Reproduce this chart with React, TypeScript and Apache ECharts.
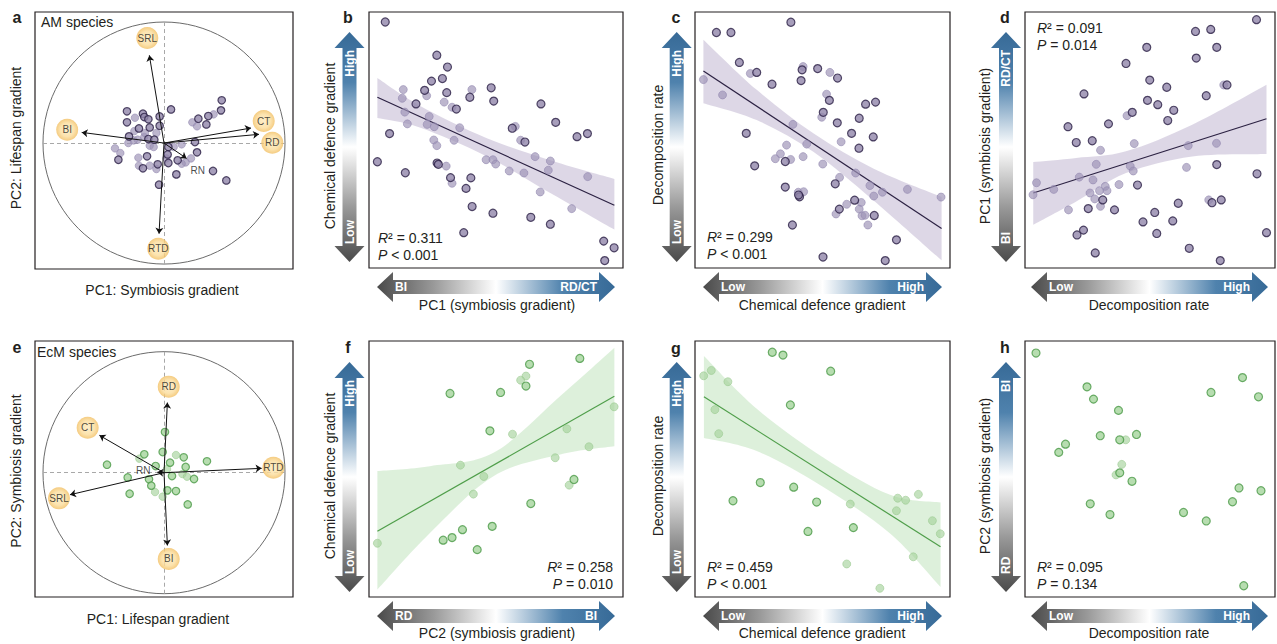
import React, { useEffect, useRef } from "react";
import * as echarts from "echarts";

const FONT = '"Liberation Sans", Arial, Helvetica, sans-serif';
const INK = "#231f20";

// ---------------- a: AM species PCA (PC1, PC2, faded flag) ----------------
const amScores: number[][] = [
  [0.477, 0.353, 0], [0.471, 0.27, 0], [0.41, 0.237, 1], [0.366, 0.223, 0], [0.284, 0.201, 0],
  [0.234, 0.171, 1], [0.273, 0.138, 1], [0.35, 0.154, 0], [0.058, 0.278, 0], [-0.306, 0.262, 0],
  [-0.306, 0.171, 0], [-0.24, 0.209, 1], [-0.174, 0.242, 0], [-0.163, 0.215, 0], [-0.129, 0.196, 0],
  [-0.036, 0.22, 0], [-0.207, 0.121, 0], [-0.118, 0.129, 0], [-0.036, 0.143, 0], [-0.289, 0.055, 0],
  [-0.295, 0.0, 1], [-0.218, 0.028, 1], [-0.163, 0.05, 1], [-0.129, 0.033, 0], [-0.08, 0.028, 0],
  [-0.063, 0.083, 1], [-0.118, -0.022, 1], [-0.085, -0.033, 1], [-0.405, -0.044, 1], [-0.361, -0.083, 1],
  [-0.377, -0.138, 0], [-0.212, -0.121, 1], [-0.14, -0.11, 0], [-0.207, -0.187, 1], [-0.174, -0.209, 0],
  [-0.118, -0.187, 1], [-0.052, -0.176, 0], [-0.063, -0.215, 1], [0.036, -0.033, 0], [0.08, -0.033, 1],
  [0.146, -0.011, 1], [0.256, 0.008, 0], [0.273, -0.077, 0], [0.223, -0.127, 1], [0.179, -0.16, 1],
  [0.146, -0.171, 1], [0.113, -0.143, 0], [0.03, -0.094, 0], [0.019, -0.127, 1], [0.036, -0.165, 0],
  [0.102, -0.259, 0], [0.405, -0.231, 0], [0.515, -0.309, 0], [-0.041, -0.344, 0], [-0.251, 0.022, 1],
  [-0.157, 0.083, 1], [-0.245, 0.099, 1],
];
const amTraits = ["SRL", "BI", "CT", "RD", "RN", "RTD"];
const amTipX = [-0.121, -0.68, 0.719, 0.785, 0.187, -0.041];
const amTipY = [0.725, 0.088, 0.124, 0.072, -0.127, -0.749];
const amLabelX = [-0.138, -0.8, 0.824, 0.895, 0.278, -0.047];
const amLabelY = [0.868, 0.11, 0.182, 0.003, -0.226, -0.873];
const amBubble = [1, 1, 1, 1, 0, 1];

// ---------------- e: EcM species PCA ----------------
const ecmScores: number[][] = [
  [0.008, 0.336, 0], [-0.011, 0.171, 0], [-0.163, 0.152, 0], [-0.204, 0.116, 1], [0.099, 0.146, 1],
  [0.163, 0.127, 0], [0.355, 0.094, 0], [-0.471, 0.066, 0], [-0.069, 0.055, 0], [0.05, 0.083, 0],
  [0.179, 0.047, 0], [0.152, -0.011, 1], [0.19, -0.033, 1], [0.248, -0.052, 0], [0.066, -0.028, 0],
  [-0.3, -0.039, 0], [-0.124, -0.055, 0], [-0.105, -0.107, 0], [-0.074, -0.16, 1], [0.028, -0.146, 0],
  [0.099, -0.152, 0], [-0.284, -0.174, 0], [-0.011, -0.198, 1], [0.196, -0.262, 0], [0.025, 0.03, 1],
];
const ecmTraits = ["RD", "CT", "RTD", "SRL", "BI", "RN"];
const ecmTipX = [0.028, -0.534, 0.807, -0.777, 0.028, -0.055];
const ecmTipY = [0.579, 0.309, 0.036, -0.182, -0.601, 0.004];
const ecmLabelX = [0.039, -0.631, 0.904, -0.868, 0.039, -0.171];
const ecmLabelY = [0.711, 0.372, 0.041, -0.212, -0.713, 0.022];
const ecmBubble = [1, 1, 1, 1, 1, 0];

// ---------------- b ----------------
const bPoints: number[][] = [
  [6.4, 96.1, 0], [26.7, 83.1, 0], [30.9, 78.5, 0], [28.9, 74.0, 0], [24.6, 73.0, 0], [13.5, 69.7, 1],
  [21.9, 69.4, 0], [22.7, 67.3, 1], [30.6, 68.5, 0], [13.1, 66.3, 1], [18.5, 64.1, 0], [29.6, 64.8, 1],
  [32.7, 62.8, 1], [34.4, 62.1, 0], [14.1, 60.9, 1], [23.7, 59.2, 1], [15.1, 56.3, 1], [22.9, 56.1, 1],
  [25.7, 55.2, 1], [35.7, 54.8, 1], [8.1, 52.5, 0], [25.5, 50.0, 1], [33.5, 49.9, 1], [26.7, 47.8, 1],
  [3.3, 41.5, 0], [26.8, 41.0, 0], [27.3, 40.5, 0], [30.4, 39.8, 1], [14.3, 37.2, 0], [32.1, 35.3, 0],
  [32.7, 33.1, 1], [40.1, 35.2, 0], [38.2, 31.1, 0], [40.6, 24.0, 0], [37.3, 13.8, 0], [40.5, 69.7, 1],
  [39.7, 66.7, 0], [48.1, 70.4, 0], [49.1, 65.2, 0], [46.1, 42.3, 1], [48.8, 42.3, 1], [49.9, 40.6, 1],
  [48.8, 21.4, 0], [55.2, 37.9, 1], [56.4, 54.6, 0], [57.6, 55.3, 1], [59.7, 49.9, 1], [61.4, 49.2, 0],
  [61.0, 37.1, 1], [65.4, 43.5, 1], [67.4, 29.7, 1], [63.7, 19.8, 0], [67.7, 64.1, 0], [73.5, 56.9, 0],
  [71.4, 41.8, 1], [70.6, 38.2, 1], [71.4, 17.1, 0], [79.8, 23.2, 1], [81.9, 51.3, 0], [86.0, 52.5, 0],
  [86.1, 35.7, 1], [92.4, 10.5, 0], [96.5, 7.9, 0], [92.8, 2.9, 0],
];
const bFitX = [3.3, 96.6];
const bFitY = [66.7, 24.5];
const bBandX = [3.3, 20, 46.4, 72.6, 96.6];
const bBandLo = [58.6, 54.9, 43.6, 28.6, 15.0];
const bBandHi = [74.2, 63.4, 50.7, 41.7, 34.8];

// ---------------- c ----------------
const cPoints: number[][] = [
  [37.6, 96.0, 0], [8.4, 92.0, 0], [14.1, 92.0, 0], [17.4, 80.3, 0], [21.7, 76.0, 1], [24.2, 76.4, 0],
  [3.3, 73.6, 1], [10.8, 67.6, 1], [30.2, 71.8, 0], [42.4, 78.7, 1], [42.0, 77.4, 0], [41.6, 73.2, 0],
  [48.1, 77.9, 0], [52.9, 76.4, 1], [55.9, 74.2, 0], [51.6, 67.9, 1], [52.7, 65.5, 0], [50.3, 60.8, 0],
  [49.7, 58.9, 1], [66.9, 64.0, 0], [70.8, 64.8, 0], [64.4, 58.5, 0], [55.8, 56.7, 0], [38.4, 56.1, 1],
  [20.1, 52.6, 0], [61.4, 52.6, 0], [69.9, 51.2, 0], [57.3, 49.3, 1], [43.8, 48.4, 1], [35.9, 48.0, 1],
  [64.3, 46.8, 0], [33.5, 44.6, 1], [31.5, 42.7, 1], [37.5, 42.4, 1], [35.4, 41.6, 0], [42.4, 43.5, 1],
  [23.4, 39.9, 0], [50.1, 40.6, 1], [63.0, 37.1, 1], [56.7, 35.4, 1], [55.0, 32.9, 0], [35.4, 31.6, 0],
  [40.5, 29.6, 1], [42.6, 29.8, 1], [41.0, 27.8, 0], [40.6, 28.5, 0], [68.6, 32.2, 1], [73.5, 29.6, 1],
  [70.1, 28.1, 1], [83.3, 30.7, 1], [96.5, 27.7, 1], [62.6, 26.5, 0], [65.2, 25.6, 1], [59.5, 24.9, 1],
  [56.6, 23.0, 0], [55.3, 21.1, 1], [64.4, 23.0, 1], [65.5, 20.4, 1], [66.7, 20.6, 1], [70.3, 20.5, 0],
  [67.8, 16.8, 1], [38.2, 16.8, 0], [79.0, 11.0, 0], [50.2, 4.3, 0], [74.6, 2.9, 0],
];
const cFitX = [3.3, 96.7];
const cFitY = [77.0, 15.4];
const cBandX = [3.3, 24.2, 46.4, 69.9, 96.7];
const cBandLo = [64.4, 57.8, 45.4, 26.5, 3.0];
const cBandHi = [89.2, 69.6, 52.6, 38.9, 27.8];

// ---------------- d ----------------
const dPoints: number[][] = [
  [92.6, 97.0, 0], [68.2, 92.4, 0], [74.3, 93.2, 0], [48.7, 86.2, 0], [76.7, 86.2, 0], [68.5, 82.0, 0],
  [40.4, 79.9, 0], [49.9, 73.4, 0], [56.7, 70.6, 0], [23.6, 68.0, 0], [79.5, 71.5, 1], [80.8, 71.5, 0],
  [72.5, 67.3, 0], [49.0, 65.5, 0], [53.1, 63.8, 0], [59.5, 61.6, 0], [42.9, 60.8, 0], [40.8, 59.5, 1],
  [57.1, 57.6, 0], [33.4, 56.3, 0], [17.2, 55.2, 0], [20.5, 49.0, 0], [26.9, 49.7, 0], [30.2, 46.0, 1],
  [43.7, 48.6, 1], [65.3, 47.8, 1], [76.6, 48.7, 1], [76.7, 40.4, 0], [28.5, 40.5, 1], [42.1, 39.8, 1],
  [43.3, 37.9, 1], [64.6, 39.3, 1], [92.8, 36.8, 0], [4.6, 33.3, 1], [21.7, 35.5, 1], [27.2, 34.4, 1],
  [45.0, 32.4, 0], [37.6, 32.6, 1], [11.5, 30.7, 1], [32.1, 31.9, 1], [32.8, 30.2, 1], [26.0, 29.3, 1],
  [29.8, 30.2, 1], [3.2, 28.6, 1], [27.9, 27.0, 1], [31.1, 26.6, 0], [30.2, 24.1, 1], [17.4, 22.7, 1],
  [25.3, 23.2, 0], [35.8, 22.7, 0], [61.3, 25.3, 0], [73.5, 26.6, 1], [74.8, 25.5, 0], [78.5, 26.6, 0],
  [51.9, 21.7, 0], [59.1, 18.4, 0], [47.2, 18.0, 0], [52.7, 13.5, 0], [23.4, 14.8, 0], [20.8, 12.9, 0],
  [96.6, 13.8, 0], [65.7, 7.7, 0], [28.1, 5.9, 0], [78.1, 2.9, 0],
];
const dFitX = [3.3, 96.6];
const dFitY = [29.3, 58.3];
const dBandX = [3.3, 20.5, 40.4, 66.9, 96.6];
const dBandLo = [16.9, 26.0, 37.1, 43.6, 44.5];
const dBandHi = [41.4, 43.0, 45.6, 56.0, 71.6];

// ---------------- f ----------------
const fPoints: number[][] = [
  [83.0, 93.2, 0], [63.2, 90.9, 0], [61.8, 86.3, 1], [59.7, 84.7, 1], [61.8, 82.4, 0], [31.9, 79.5, 0],
  [51.8, 79.9, 0], [96.5, 74.3, 1], [47.6, 64.9, 0], [56.5, 63.6, 1], [77.9, 65.7, 1], [86.6, 58.7, 1],
  [73.3, 54.4, 1], [36.0, 51.5, 1], [45.2, 47.1, 1], [41.1, 40.2, 1], [78.8, 43.7, 1], [80.7, 45.9, 0],
  [63.7, 36.5, 0], [36.8, 26.3, 0], [48.5, 27.6, 0], [32.7, 23.2, 0], [29.2, 22.2, 0], [42.6, 18.5, 0],
  [3.3, 21.0, 1],
];
const fFitX = [3.3, 96.6];
const fFitY = [25.7, 78.4];
const fBandX = [3.3, 24, 49, 75.3, 96.6];
const fBandLo = [2.9, 25.0, 47.2, 55.7, 58.9];
const fBandHi = [49.2, 51.1, 56.3, 78.5, 97.4];

// ---------------- g ----------------
const gPoints: number[][] = [
  [30.3, 95.6, 0], [34.5, 94.5, 0], [53.2, 88.2, 0], [3.4, 86.4, 1], [6.4, 88.5, 1], [12.9, 84.1, 1],
  [37.4, 75.0, 0], [7.8, 73.2, 1], [9.3, 63.8, 1], [25.6, 44.7, 0], [38.7, 42.9, 0], [14.9, 37.6, 0],
  [47.7, 37.1, 0], [60.9, 36.3, 1], [79.5, 38.6, 1], [82.6, 37.8, 1], [87.6, 40.1, 1], [79.0, 33.7, 1],
  [93.1, 29.8, 1], [96.2, 24.7, 1], [44.3, 25.6, 0], [62.1, 27.1, 0], [85.6, 15.7, 1], [59.5, 12.9, 1],
  [72.5, 3.4, 1],
];
const gFitX = [3.5, 96.3];
const gFitY = [78.2, 19.6];
const gBandX = [3.5, 24.2, 50.3, 76.5, 96.3];
const gBandLo = [62.1, 57.0, 43.0, 24.8, 3.9];
const gBandHi = [94.1, 73.5, 54.5, 39.9, 36.9];

// ---------------- h ----------------
const hPoints: number[][] = [
  [4.4, 95.3, 0], [24.8, 82.1, 0], [27.4, 77.3, 0], [37.4, 72.9, 0], [87.0, 85.7, 0], [74.4, 79.9, 0],
  [93.4, 78.2, 0], [30.1, 63.0, 0], [37.9, 61.4, 0], [40.3, 61.4, 1], [44.6, 63.5, 0], [16.2, 59.7, 0],
  [13.5, 56.5, 0], [38.7, 51.8, 1], [36.4, 47.7, 1], [37.9, 48.5, 0], [42.8, 45.2, 0], [26.1, 36.4, 0],
  [34.0, 32.2, 0], [63.4, 33.0, 0], [72.5, 29.7, 0], [85.6, 42.6, 0], [94.4, 41.5, 0], [83.0, 37.2, 0],
  [87.5, 4.4, 0],
];

// statistics text
const statR2 = ["0.311", "0.299", "0.091", "0.258", "0.459", "0.095"];
const statP = ["< 0.001", "< 0.001", "= 0.014", "= 0.010", "< 0.001", "= 0.134"];

// ---------------- layout ----------------
const BOXES = [
  { left: 35, top: 12, width: 258, height: 257 },
  { left: 369, top: 12, width: 254, height: 256 },
  { left: 695, top: 12, width: 255, height: 256 },
  { left: 1025, top: 12, width: 250, height: 256 },
  { left: 35, top: 341, width: 258, height: 256 },
  { left: 369, top: 341, width: 254, height: 256 },
  { left: 695, top: 341, width: 255, height: 256 },
  { left: 1025, top: 341, width: 250, height: 256 },
];
const RANGES = [
  { x: [-1.066, 1.066], y: [-1.041, 1.083] },
  { x: [0, 100], y: [0, 100] },
  { x: [0, 100], y: [0, 100] },
  { x: [0, 100], y: [0, 100] },
  { x: [-1.066, 1.066], y: [-1.027, 1.088] },
  { x: [0, 100], y: [0, 100] },
  { x: [0, 100], y: [0, 100] },
  { x: [0, 100], y: [0, 100] },
];

const PURPLE = {
  fill: "#9186aa",
  edge: "#2b1f45",
  faded: "rgba(158,148,183,0.85)",
  fadedEdge: "rgba(145,135,175,0.9)",
  line: "#2b2142",
  band: "rgba(187,176,205,0.5)",
};
const GREEN = {
  fill: "#a5d49c",
  edge: "#4b9a47",
  faded: "rgba(165,210,155,0.8)",
  fadedEdge: "rgba(150,200,140,0.85)",
  line: "#4f9e4a",
  band: "rgba(175,220,170,0.42)",
};

function scatterPair(i: number, pts: number[][], pal: any, size: number) {
  return [
    {
      type: "scatter", xAxisIndex: i, yAxisIndex: i, symbolSize: size, silent: true, z: 3,
      data: pts.filter((p) => p[2] === 1).map((p) => [p[0], p[1]]),
      itemStyle: { color: pal.faded, borderColor: pal.fadedEdge, borderWidth: 0.8 },
    },
    {
      type: "scatter", xAxisIndex: i, yAxisIndex: i, symbolSize: size, silent: true, z: 4,
      data: pts.filter((p) => p[2] !== 1).map((p) => [p[0], p[1]]),
      itemStyle: { color: pal.fill, borderColor: pal.edge, borderWidth: 1.2 },
    },
  ];
}

function curve(p: number[][], move: boolean) {
  let s = move ? `M${p[0][0]} ${p[0][1]}` : "";
  for (let k = 0; k < p.length - 1; k++) {
    const p0 = p[k - 1] || p[k];
    const p1 = p[k];
    const p2 = p[k + 1];
    const p3 = p[k + 2] || p2;
    const c1 = [p1[0] + (p2[0] - p0[0]) / 6, p1[1] + (p2[1] - p0[1]) / 6];
    const c2 = [p2[0] - (p3[0] - p1[0]) / 6, p2[1] - (p3[1] - p1[1]) / 6];
    s += ` C${c1[0]} ${c1[1]} ${c2[0]} ${c2[1]} ${p2[0]} ${p2[1]}`;
  }
  return s;
}

function bandSeries(i: number, xs: number[], lo: number[], hi: number[], color: string) {
  return {
    type: "custom", xAxisIndex: i, yAxisIndex: i, silent: true, z: 1,
    data: [[xs[0], lo[0]]],
    renderItem: (_params: any, api: any) => {
      const up = xs.map((x, k) => api.coord([x, hi[k]]));
      const dn = xs.map((x, k) => api.coord([x, lo[k]])).reverse();
      const d = curve(up, true) + ` L${dn[0][0]} ${dn[0][1]}` + curve(dn, false) + " Z";
      return { type: "path", shape: { pathData: d }, style: { fill: color } };
    },
  };
}

function fitSeries(i: number, xs: number[], ys: number[], color: string) {
  return {
    type: "line", xAxisIndex: i, yAxisIndex: i, silent: true, z: 2, symbol: "none",
    data: xs.map((x, k) => [x, ys[k]]),
    lineStyle: { color, width: 1.2 },
  };
}

const BUBBLE = {
  type: "radial", x: 0.5, y: 0.5, r: 0.5,
  colorStops: [
    { offset: 0, color: "#fdeabd" },
    { offset: 0.62, color: "#fbdc9a" },
    { offset: 1, color: "#f2bf62" },
  ],
};

function pcaSeries(i: number, scores: number[][], traits: string[], tx: number[], ty: number[], lx: number[], ly: number[], bub: number[], pal: any) {
  return [
    {
      type: "lines", coordinateSystem: "cartesian2d", xAxisIndex: i, yAxisIndex: i, silent: true, z: 1,
      data: [{ coords: [[-1, 0], [1, 0]] }, { coords: [[0, -1], [0, 1]] }],
      symbol: "none",
      lineStyle: { color: "#a8a8a8", type: [4, 3], width: 1, opacity: 1 },
    },
    ...scatterPair(i, scores, pal, 7.5),
    {
      type: "lines", coordinateSystem: "cartesian2d", xAxisIndex: i, yAxisIndex: i, silent: true, z: 5,
      data: traits.map((_t, k) => ({ coords: [[0, 0], [tx[k], ty[k]]] })),
      symbol: ["none", "arrow"], symbolSize: 6,
      lineStyle: { color: "#111", width: 1, opacity: 1 },
    },
    {
      type: "scatter", xAxisIndex: i, yAxisIndex: i, silent: true, z: 6,
      data: traits.map((t, k) => ({
        name: t,
        value: [lx[k], ly[k]],
        symbolSize: bub[k] ? 22 : 1,
        itemStyle: bub[k] ? { color: BUBBLE } : { color: "rgba(0,0,0,0)" },
      })),
      label: { show: true, position: "inside", formatter: "{b}", fontSize: 10, color: "#1a1a1a", fontFamily: FONT },
    },
  ];
}

const V_STOPS = [
  { offset: 0, color: "#376a97" },
  { offset: 0.22, color: "#4f82ad" },
  { offset: 0.5, color: "#ffffff" },
  { offset: 0.76, color: "#9a9a9a" },
  { offset: 1, color: "#4a4a4a" },
];
const H_STOPS = [
  { offset: 0, color: "#4a4a4a" },
  { offset: 0.24, color: "#9a9a9a" },
  { offset: 0.5, color: "#ffffff" },
  { offset: 0.78, color: "#4f82ad" },
  { offset: 1, color: "#376a97" },
];

const lblStyle = { fill: "#ffffff", fontSize: 12, fontWeight: "bold", fontFamily: FONT, verticalAlign: "middle" };

function vArrow(cx: number, yT: number, yB: number, top: string, bottom: string) {
  const hw = 15, sw = 7, hl = 16;
  const pts = [
    [cx, yT], [cx + hw, yT + hl], [cx + sw, yT + hl], [cx + sw, yB - hl], [cx + hw, yB - hl],
    [cx, yB], [cx - hw, yB - hl], [cx - sw, yB - hl], [cx - sw, yT + hl], [cx - hw, yT + hl],
  ];
  return [
    { type: "polygon", shape: { points: pts }, style: { fill: new echarts.graphic.LinearGradient(0, 0, 0, 1, V_STOPS) }, z: 1 },
    { type: "text", x: cx, y: yT + hl + 2, rotation: Math.PI / 2, z: 2, style: { ...lblStyle, text: top, align: "right" } },
    { type: "text", x: cx, y: yB - hl - 2, rotation: Math.PI / 2, z: 2, style: { ...lblStyle, text: bottom, align: "left" } },
  ];
}

function hArrow(xL: number, xR: number, cy: number, left: string, right: string) {
  const hw = 15, sw = 7, hl = 16;
  const pts = [
    [xL, cy], [xL + hl, cy - hw], [xL + hl, cy - sw], [xR - hl, cy - sw], [xR - hl, cy - hw],
    [xR, cy], [xR - hl, cy + hw], [xR - hl, cy + sw], [xL + hl, cy + sw], [xL + hl, cy + hw],
  ];
  return [
    { type: "polygon", shape: { points: pts }, style: { fill: new echarts.graphic.LinearGradient(0, 0, 1, 0, H_STOPS) }, z: 1 },
    { type: "text", x: xL + hl + 2, y: cy, z: 2, style: { ...lblStyle, text: left, align: "left" } },
    { type: "text", x: xR - hl - 2, y: cy, z: 2, style: { ...lblStyle, text: right, align: "right" } },
  ];
}

function title(x: number, y: number, text: string, rotate = false) {
  return {
    type: "text", x, y, rotation: rotate ? Math.PI / 2 : 0, z: 3,
    style: { text, fontSize: 14, fontFamily: FONT, fill: INK, align: "center", verticalAlign: "middle" },
  };
}

function letter(x: number, y: number, text: string) {
  return {
    type: "text", x, y, z: 3,
    style: { text, fontSize: 16, fontWeight: "bold", fontFamily: FONT, fill: INK, align: "center", verticalAlign: "middle" },
  };
}

function stats(x: number, y: number, k: number, align: string) {
  const s = { fontSize: 14, fontFamily: FONT, fill: INK, align, verticalAlign: "middle" };
  const rich = { i: { fontStyle: "italic", fontSize: 14, fontFamily: FONT, fill: INK } };
  return [
    { type: "text", x, y, z: 3, style: { ...s, text: `{i|R}² = ${statR2[k]}`, rich } },
    { type: "text", x, y: y + 17, z: 3, style: { ...s, text: `{i|P} ${statP[k]}`, rich } },
  ];
}

export default function App() {
  const ref = useRef<HTMLDivElement>(null);
  useEffect(() => {
    if (!ref.current) return;
    const chart = echarts.init(ref.current, undefined, { renderer: "svg" });
    const series: any[] = [
      ...pcaSeries(0, amScores, amTraits, amTipX, amTipY, amLabelX, amLabelY, amBubble, PURPLE),
      bandSeries(1, bBandX, bBandLo, bBandHi, PURPLE.band),
      fitSeries(1, bFitX, bFitY, PURPLE.line),
      ...scatterPair(1, bPoints, PURPLE, 8),
      bandSeries(2, cBandX, cBandLo, cBandHi, PURPLE.band),
      fitSeries(2, cFitX, cFitY, PURPLE.line),
      ...scatterPair(2, cPoints, PURPLE, 8),
      bandSeries(3, dBandX, dBandLo, dBandHi, PURPLE.band),
      fitSeries(3, dFitX, dFitY, PURPLE.line),
      ...scatterPair(3, dPoints, PURPLE, 8),
      ...pcaSeries(4, ecmScores, ecmTraits, ecmTipX, ecmTipY, ecmLabelX, ecmLabelY, ecmBubble, GREEN),
      bandSeries(5, fBandX, fBandLo, fBandHi, GREEN.band),
      fitSeries(5, fFitX, fFitY, GREEN.line),
      ...scatterPair(5, fPoints, GREEN, 8),
      bandSeries(6, gBandX, gBandLo, gBandHi, GREEN.band),
      fitSeries(6, gFitX, gFitY, GREEN.line),
      ...scatterPair(6, gPoints, GREEN, 8),
      ...scatterPair(7, hPoints, GREEN, 8),
    ];
    chart.setOption({
      animation: false,
      backgroundColor: "#ffffff",
      grid: BOXES.map((b) => ({ ...b, show: true, borderColor: INK, borderWidth: 1.2, backgroundColor: "transparent" })),
      xAxis: RANGES.map((r, i) => ({ gridIndex: i, type: "value", min: r.x[0], max: r.x[1], show: false })),
      yAxis: RANGES.map((r, i) => ({ gridIndex: i, type: "value", min: r.y[0], max: r.y[1], show: false })),
      series,
    });

    const circle = (gi: number) => {
      const c = chart.convertToPixel({ gridIndex: gi } as any, [0, 0]) as number[];
      const e = chart.convertToPixel({ gridIndex: gi } as any, [1, 0]) as number[];
      return { type: "circle", z: 0, shape: { cx: c[0], cy: c[1], r: e[0] - c[0] }, style: { fill: "none", stroke: "#6b6b6b", lineWidth: 1 } };
    };

    const graphics: any[] = [
      circle(0),
      circle(4),
      letter(17, 17, "a"), letter(348, 17, "b"), letter(676, 17, "c"), letter(1005, 17, "d"),
      letter(17, 347, "e"), letter(348, 347, "f"), letter(676, 348, "g"), letter(1005, 347, "h"),
      { type: "text", x: 41, y: 22, z: 3, style: { text: "AM species", fontSize: 14, fontFamily: FONT, fill: INK, align: "left", verticalAlign: "middle" } },
      { type: "text", x: 37, y: 352, z: 3, style: { text: "EcM species", fontSize: 14, fontFamily: FONT, fill: INK, align: "left", verticalAlign: "middle" } },
      title(162, 290, "PC1: Symbiosis gradient"),
      title(16, 138, "PC2: Lifespan gradient", true),
      title(158, 619, "PC1: Lifespan gradient"),
      title(16, 471, "PC2: Symbiosis gradient", true),
      // b
      ...vArrow(349.5, 32, 262, "High", "Low"),
      ...hArrow(377, 615, 287, "BI", "RD/CT"),
      title(330, 146, "Chemical defence gradient", true),
      title(497, 305, "PC1 (symbiosis gradient)"),
      ...stats(378, 238, 0, "left"),
      // c
      ...vArrow(676.7, 32, 262, "High", "Low"),
      ...hArrow(703, 942, 287, "Low", "High"),
      title(658, 145, "Decomposition rate", true),
      title(822, 305, "Chemical defence gradient"),
      ...stats(707, 237, 1, "left"),
      // d
      ...vArrow(1006, 32, 262, "RD/CT", "BI"),
      ...hArrow(1031, 1268, 287, "Low", "High"),
      title(985, 146, "PC1 (symbiosis gradient)", true),
      title(1149, 305, "Decomposition rate"),
      ...stats(1037, 28, 2, "left"),
      // f
      ...vArrow(349.5, 362, 592, "High", "Low"),
      ...hArrow(377, 615, 616, "RD", "BI"),
      title(330, 476, "Chemical defence gradient", true),
      title(497, 633, "PC2 (symbiosis gradient)"),
      ...stats(613, 567, 3, "right"),
      // g
      ...vArrow(676.7, 362, 592, "High", "Low"),
      ...hArrow(703, 942, 616, "Low", "High"),
      title(658, 476, "Decomposition rate", true),
      title(822, 633, "Chemical defence gradient"),
      ...stats(707, 567, 4, "left"),
      // h
      ...vArrow(1006, 362, 592, "BI", "RD"),
      ...hArrow(1031, 1268, 616, "Low", "High"),
      title(985, 476, "PC2 (symbiosis gradient)", true),
      title(1149, 633, "Decomposition rate"),
      ...stats(1037, 567, 5, "left"),
    ];
    chart.setOption({ graphic: graphics });
    return () => chart.dispose();
  }, []);
  return <div ref={ref} style={{ position: "fixed", left: 0, top: 0, width: 1277, height: 644 }} />;
}
